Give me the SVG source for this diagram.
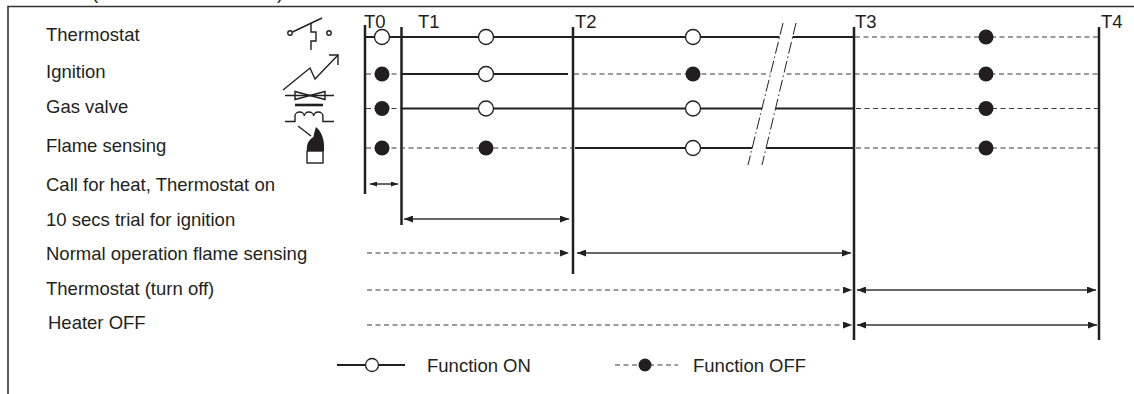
<svg xmlns="http://www.w3.org/2000/svg" width="1134" height="394" viewBox="0 0 1134 394">
<style>
.t{font-family:"Liberation Sans",Arial,sans-serif;font-size:18.5px;fill:#231f20}
.solid{stroke:#231f20;stroke-width:2;fill:none}
.dash{stroke:#3a3a3a;stroke-width:1.2;stroke-dasharray:5 3.5;fill:none}
.vt{stroke:#231f20;stroke-width:2.5;fill:none}
.on{fill:#fff;stroke:#231f20;stroke-width:1.3}
.off{fill:#231f20}
.arr{stroke:#333;stroke-width:1.5;fill:none}
.ico{stroke:#231f20;stroke-width:1.4;fill:none}
.brk{stroke:#231f20;stroke-width:1;stroke-dasharray:12 3 1.5 3;fill:none}
</style>
<defs>
<marker id="ah" markerUnits="userSpaceOnUse" markerWidth="9" markerHeight="7" viewBox="0 0 9 7" refX="9" refY="3.5" orient="auto-start-reverse"><path d="M0,0 L9,3.5 L0,7 Z" fill="#231f20"/></marker>
<marker id="ahs" markerUnits="userSpaceOnUse" markerWidth="7" markerHeight="5" viewBox="0 0 7 5" refX="7" refY="2.5" orient="auto-start-reverse"><path d="M0,0 L7,2.5 L0,5 Z" fill="#231f20"/></marker>
</defs>
<rect width="1134" height="394" fill="#fff"/>
<g id="frame">
<path d="M8,394 V6.5 H1134" stroke="#333" stroke-width="1.6" fill="none"/>
<text class="t" x="92" y="-1">(</text>
<text class="t" x="277" y="-1">)</text>
</g>
<g id="labels">
<text class="t" x="46" y="41">Thermostat</text>
<text class="t" x="46" y="78">Ignition</text>
<text class="t" x="46" y="113">Gas valve</text>
<text class="t" x="46" y="152">Flame sensing</text>
<text class="t" x="46" y="191">Call for heat, Thermostat on</text>
<text class="t" x="46" y="226">10 secs trial for ignition</text>
<text class="t" x="46" y="260">Normal operation flame sensing</text>
<text class="t" x="46" y="295">Thermostat (turn off)</text>
<text class="t" x="48" y="329">Heater OFF</text>
</g>
<g id="icons">
<g id="icon-thermostat">
<circle class="ico" cx="290" cy="33" r="2.2" stroke-width="1.2"/>
<line class="ico" x1="292.5" y1="32" x2="322" y2="18"/>
<path class="ico" d="M311,23.2 V32 H316 V41 H311 V50"/>
<circle class="ico" cx="329" cy="33" r="2.2" stroke-width="1.2"/>
</g>
<g id="icon-ignition">
<polyline class="ico" points="283,90 310,68 315,79 338,55"/>
<polyline class="ico" points="329,55 338,55 338,65"/>
</g>
<g id="icon-gasvalve">
<line class="ico" x1="285" y1="95.5" x2="334" y2="95.5"/>
<path class="ico" d="M295,91.5 V99.5 L325,91.5 V99.5 Z" fill="#fff"/>
<line x1="295" y1="105" x2="323" y2="105" stroke="#231f20" stroke-width="2.6"/>
<path class="ico" d="M285,121.5 H295 V116 a4.65,4 0 0 1 9.3,0 a4.65,4 0 0 1 9.3,0 a4.65,4 0 0 1 9.3,0 V121.5 H334"/>
</g>
<g id="icon-flame">
<line class="ico" x1="298" y1="126" x2="311" y2="136"/>
<path d="M307,151 C306,143 310,139 313.5,137 C314,133 315,130 316,127 C321,131 325,139 324,151 Z" fill="#231f20"/>
<rect class="ico" x="307" y="151" width="16" height="12" fill="#fff"/>
</g>
</g>
<g id="time-markers">
<g id="T0"><line class="vt" x1="365" y1="25" x2="365" y2="194"/><text class="t" x="364" y="27.5">T0</text></g>
<g id="T1"><line class="vt" x1="401.5" y1="27" x2="401.5" y2="225"/><text class="t" x="418" y="27.5">T1</text></g>
<g id="T2"><line class="vt" x1="573" y1="27" x2="573" y2="274"/><text class="t" x="575" y="27.5">T2</text></g>
<g id="T3"><line class="vt" x1="854" y1="27" x2="854" y2="340"/><text class="t" x="855" y="27.5">T3</text></g>
<g id="T4"><line class="vt" x1="1099" y1="27" x2="1099" y2="340"/><text class="t" x="1101" y="27.5">T4</text></g>
</g>
<g id="signal-lines">
<g id="row-thermostat">
<path class="solid" d="M366,37 H854"/>
<path class="dash" d="M855,37 H1098"/>
</g>
<g id="row-ignition">
<path class="dash" d="M366,74 H401"/>
<path class="solid" d="M401,74 H568"/>
<path class="dash" d="M574,74 H1098"/>
</g>
<g id="row-gasvalve">
<path class="dash" d="M366,108.5 H401"/>
<path class="solid" d="M401,108.5 H854"/>
<path class="dash" d="M856,108.5 H1098"/>
</g>
<g id="row-flame">
<path class="dash" d="M366,148 H573"/>
<path class="solid" d="M575,148 H854"/>
<path class="dash" d="M856,148 H1098"/>
</g>
<g id="break">
<polygon points="783,22 796,22 762,166 748,166" fill="#fff"/>
<line class="brk" x1="783" y1="23" x2="748" y2="165"/>
<line class="brk" x1="796" y1="23" x2="762" y2="165"/>
</g>
</g>
<g id="states">
<circle class="on" cx="382" cy="37" r="7.5"/>
<circle class="on" cx="486" cy="37" r="7.5"/>
<circle class="on" cx="693" cy="37" r="7.5"/>
<circle class="off" cx="986" cy="37" r="7.5"/>
<circle class="off" cx="382" cy="74" r="7.5"/>
<circle class="on" cx="486" cy="74" r="7.5"/>
<circle class="off" cx="693" cy="74" r="7.5"/>
<circle class="off" cx="986" cy="74" r="7.5"/>
<circle class="off" cx="382" cy="108.5" r="7.5"/>
<circle class="on" cx="486" cy="108.5" r="7.5"/>
<circle class="on" cx="693" cy="108.5" r="7.5"/>
<circle class="off" cx="986" cy="108.5" r="7.5"/>
<circle class="off" cx="382" cy="148" r="7.5"/>
<circle class="off" cx="486" cy="148" r="7.5"/>
<circle class="on" cx="693" cy="148" r="7.5"/>
<circle class="off" cx="986" cy="148" r="7.5"/>
</g>
<g id="connectors">
<path class="arr" d="M370,184 H398" marker-start="url(#ahs)" marker-end="url(#ahs)"/>
<path class="arr" d="M404,219 H569" marker-start="url(#ah)" marker-end="url(#ah)"/>
<path class="dash" d="M367,253 H569" marker-end="url(#ah)"/>
<path class="arr" d="M577,253 H851" marker-start="url(#ah)" marker-end="url(#ah)"/>
<path class="dash" d="M367,290 H852" marker-end="url(#ah)"/>
<path class="arr" d="M857,290 H1096" marker-start="url(#ah)" marker-end="url(#ah)"/>
<path class="dash" d="M367,325 H852" marker-end="url(#ah)"/>
<path class="arr" d="M857,325 H1097" marker-start="url(#ah)" marker-end="url(#ah)"/>
</g>
<g id="legend">
<line class="solid" x1="337" y1="365" x2="405" y2="365"/>
<circle class="on" cx="372" cy="365" r="6.5"/>
<text class="t" x="427" y="372">Function ON</text>
<line class="dash" x1="615" y1="365" x2="678" y2="365"/>
<circle class="off" cx="645" cy="365" r="6.5"/>
<text class="t" x="693" y="372">Function OFF</text>
</g>
</svg>
